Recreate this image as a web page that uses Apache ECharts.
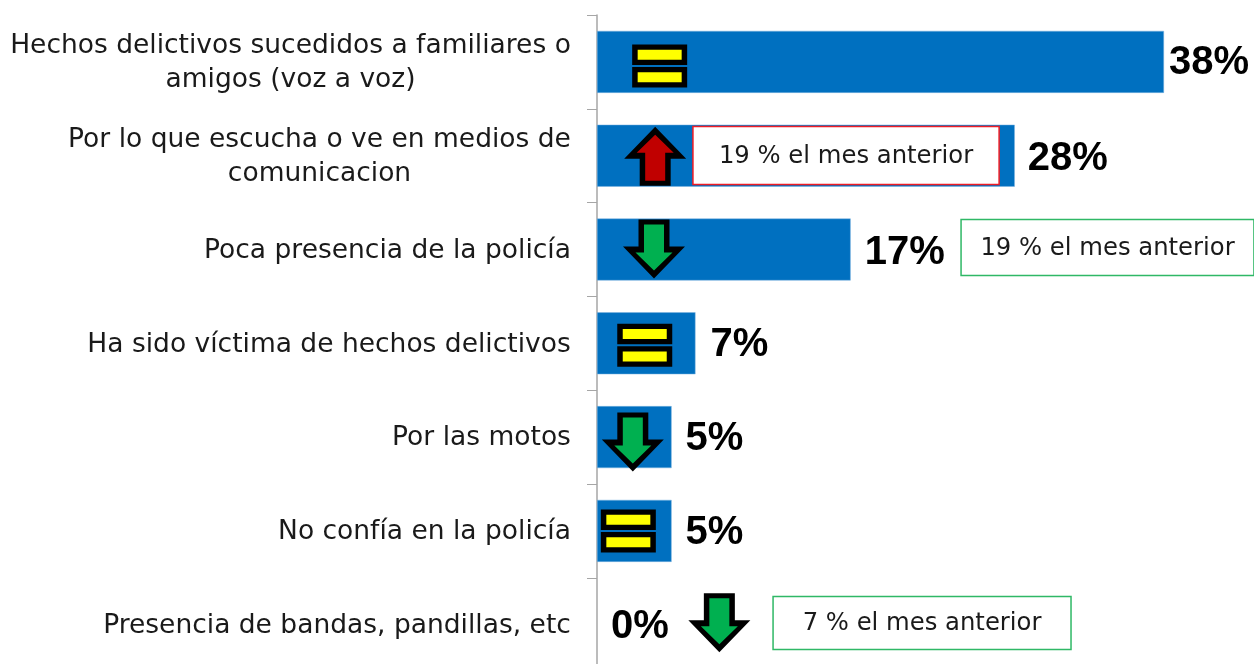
<!DOCTYPE html>
<html><head><meta charset="utf-8">
<style>html,body{margin:0;padding:0;background:#fff}#c{width:1254px;height:664px}</style>
<script src="https://cdn.jsdelivr.net/npm/echarts@6/dist/echarts.min.js"></script>
</head><body><div id="c"></div>
<script>
const categories = ['Hechos delictivos sucedidos a familiares o\namigos (voz a voz)','Por lo que escucha o ve en medios de\ncomunicacion','Poca presencia de la policía','Ha sido víctima de hechos delictivos','Por las motos','No confía en la policía','Presencia de bandas, pandillas, etc'];
const values = [38, 28, 17, 6.6, 5, 5, 0];
const trends = ['equal','up','down','equal','down','equal','down'];
const trendAt = [4.2, 3.9, 3.82, 3.2, 2.4, 2.1, 8.2];
const trendDy = [4, 0.5, -0.5, 2, 5, 0, -2];
const noteRows = [1, 2, 6];
const noteText = ['19 % el mes anterior','19 % el mes anterior','7 % el mes anterior'];
const noteFrom = [6.43, 24.4, 11.8];
const noteTo = [26.95, 44.03, 31.77];
const noteColor = ['#ee1c25','#2fb866','#2fb866'];
const noteHeight = [58, 56, 53];
const noteDy = [-0.5, -2.5, -2.5];
const labelDx = [5, 13, 14, 15, 14, 14, 14];
const labelDy = [1, 3, 3, 2, 2, 2, 2];
const arrowOuter = [[0,-29.5],[31,2.5],[15.5,2.5],[15.5,29.5],[-15.5,29.5],[-15.5,2.5],[-31,2.5]];
const arrowInner = [[0,-21.5],[18.5,-3.5],[10,-3.5],[10,24.5],[-10,24.5],[-10,-3.5],[-18.5,-3.5]];

const LABEL_FONT = 'DejaVu Sans';
const LABEL_SIZE = 26.5;
const cv = document.createElement('canvas').getContext('2d');
cv.font = LABEL_SIZE + 'px "' + LABEL_FONT + '"';
const rich = {};
categories.forEach((c, i) => {
  rich['r' + i] = {width: Math.ceil(cv.measureText(c.split('\n')[0]).width), align: 'center',
    fontFamily: LABEL_FONT, fontSize: LABEL_SIZE, lineHeight: 34, color: '#1a1a1a'};
});

const chart = echarts.init(document.getElementById('c'), null, {renderer: 'canvas'});

function trendShape(type, cx, cy) {
  if (type === 'equal') {
    const out = [];
    [-11.25, 11.25].forEach(d => {
      out.push({type: 'rect', shape: {x: cx - 27.5, y: cy + d - 10.25, width: 55, height: 20.5}, style: {fill: '#000'}});
      out.push({type: 'rect', shape: {x: cx - 22, y: cy + d - 5, width: 44, height: 10}, style: {fill: '#ffff00'}});
    });
    return out;
  }
  const s = type === 'up' ? 1 : -1;
  const fill = type === 'up' ? '#c00000' : '#00b050';
  const place = pts => pts.map(p => [cx + p[0], cy + s * p[1]]);
  return [
    {type: 'polygon', shape: {points: place(arrowOuter)}, style: {fill: '#000'}},
    {type: 'polygon', shape: {points: place(arrowInner)}, style: {fill}}
  ];
}

chart.setOption({
  animation: false,
  backgroundColor: '#fff',
  grid: {left: 597, top: 15, width: 656.5, height: 656.6, containLabel: false, outerBoundsMode: 'none'},
  xAxis: {type: 'value', min: 0, max: 44, show: false},
  yAxis: {
    type: 'category', inverse: true, data: categories,
    axisLine: {show: true, lineStyle: {color: '#a6a6a6', width: 1.5}},
    axisTick: {show: true, length: 10, lineStyle: {color: '#a6a6a6'}},
    axisLabel: {margin: 26, align: 'right', padding: [3, 0, 0, 0], rich,
      formatter: (v, i) => v.split('\n').map(l => '{r' + i + '|' + l + '}').join('\n')}
  },
  series: [
    {type: 'bar', barWidth: 62, silent: true,
     data: values.map((v, i) => ({value: v,
       itemStyle: {color: '#0070c0', borderColor: '#7fb5e0', borderWidth: v > 0 ? 0.5 : 0},
       label: {
       show: true, position: 'right', distance: labelDx[i], offset: [0, labelDy[i]],
       formatter: Math.round(v) + '%', fontFamily: 'Liberation Sans', fontWeight: 'bold', fontSize: 40, color: '#000'}}))},
    {type: 'custom', silent: true, z: 5, coordinateSystem: 'cartesian2d',
     data: trends.map((t, i) => [trendAt[i], i]),
     renderItem: (p, api) => {
       const pt = api.coord([api.value(0), api.value(1)]);
       const i = p.dataIndex;
       return {type: 'group', children: trendShape(trends[i], pt[0], pt[1] + trendDy[i])};
     }},
    {type: 'custom', silent: true, z: 6, coordinateSystem: 'cartesian2d',
     data: noteRows.map((r, i) => [noteFrom[i], noteTo[i], r]),
     renderItem: (p, api) => {
       const a = api.coord([api.value(0), api.value(2)]);
       const b = api.coord([api.value(1), api.value(2)]);
       const i = p.dataIndex;
       const h = noteHeight[i];
       const y = Math.round(a[1] - h / 2 + noteDy[i]) + 0.5;
       return {type: 'group', children: [
         {type: 'rect', shape: {x: a[0], y, width: b[0] - a[0], height: h},
          style: {fill: '#fff', stroke: noteColor[i], lineWidth: 1.5}},
         {type: 'text', style: {x: (a[0] + b[0]) / 2, y: y + h / 2 + 1, text: noteText[i], align: 'center', verticalAlign: 'middle',
          fontFamily: LABEL_FONT, fontSize: 24.3, fill: '#1a1a1a'}}
       ]};
     }}
  ]
});
</script></body></html>
